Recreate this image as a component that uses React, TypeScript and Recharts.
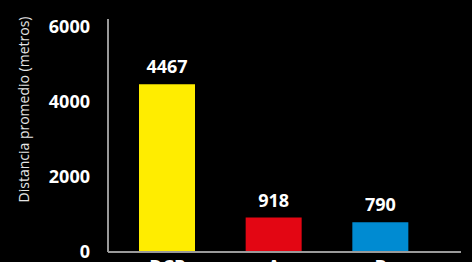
import { BarChart, Bar, XAxis, YAxis, Cell, LabelList } from 'recharts'

const categories = ['DCP', 'A', 'B']
const distances = [4467, 918, 790]
const barColors = ['#ffed00', '#e30613', '#008bd2']
const yTicks = [0, 2000, 4000, 6000]

const data = categories.map((name, i) => ({ name, distancia: distances[i] }))

const font = '"Open Sans", "DejaVu Sans", sans-serif'

// rotated axis title, placed a bit above the plot's middle like the original
const AxisTitle = ({ viewBox }: any) => {
  const x = 23
  const y = viewBox.y + viewBox.height / 2 - 26
  return (
    <text
      x={x}
      y={y}
      transform={`rotate(-90 ${x} ${y})`}
      textAnchor="middle"
      dominantBaseline="central"
      fill="#e6e6e6"
      fontSize={14}
      fontFamily={font}
    >
      Distancia promedio (metros)
    </text>
  )
}

export default function App() {
  return (
    <div style={{ position: 'absolute', left: 0, top: 0, width: 472, height: 262, background: '#000', overflow: 'hidden' }}>
      <BarChart
        width={472}
        height={262}
        data={data}
        margin={{ top: 19, right: 11, bottom: 0, left: 0 }}
      >
        <XAxis
          dataKey="name"
          height={10}
          padding={{ left: 6, right: 27 }}
          axisLine={{ stroke: '#9a9a9a', strokeWidth: 2 }}
          tickLine={false}
          tick={{ fill: '#fff', fontSize: 18, fontWeight: 700, fontFamily: font }}
        />
        <YAxis
          width={108}
          domain={[0, 6200]}
          ticks={yTicks}
          interval={0}
          axisLine={{ stroke: '#9a9a9a', strokeWidth: 2 }}
          tickLine={false}
          tickMargin={12}
          tick={{ fill: '#fff', fontSize: 18, fontWeight: 700, fontFamily: font }}
          label={<AxisTitle />}
        />
        <Bar dataKey="distancia" barSize={56} isAnimationActive={false}>
          {data.map((entry, index) => (
            <Cell key={`cell-${index}`} fill={barColors[index]} />
          ))}
          <LabelList
            dataKey="distancia"
            position="top"
            offset={11}
            fill="#fff"
            fontSize={18}
            fontWeight={700}
            fontFamily={font}
          />
        </Bar>
      </BarChart>
    </div>
  )
}
